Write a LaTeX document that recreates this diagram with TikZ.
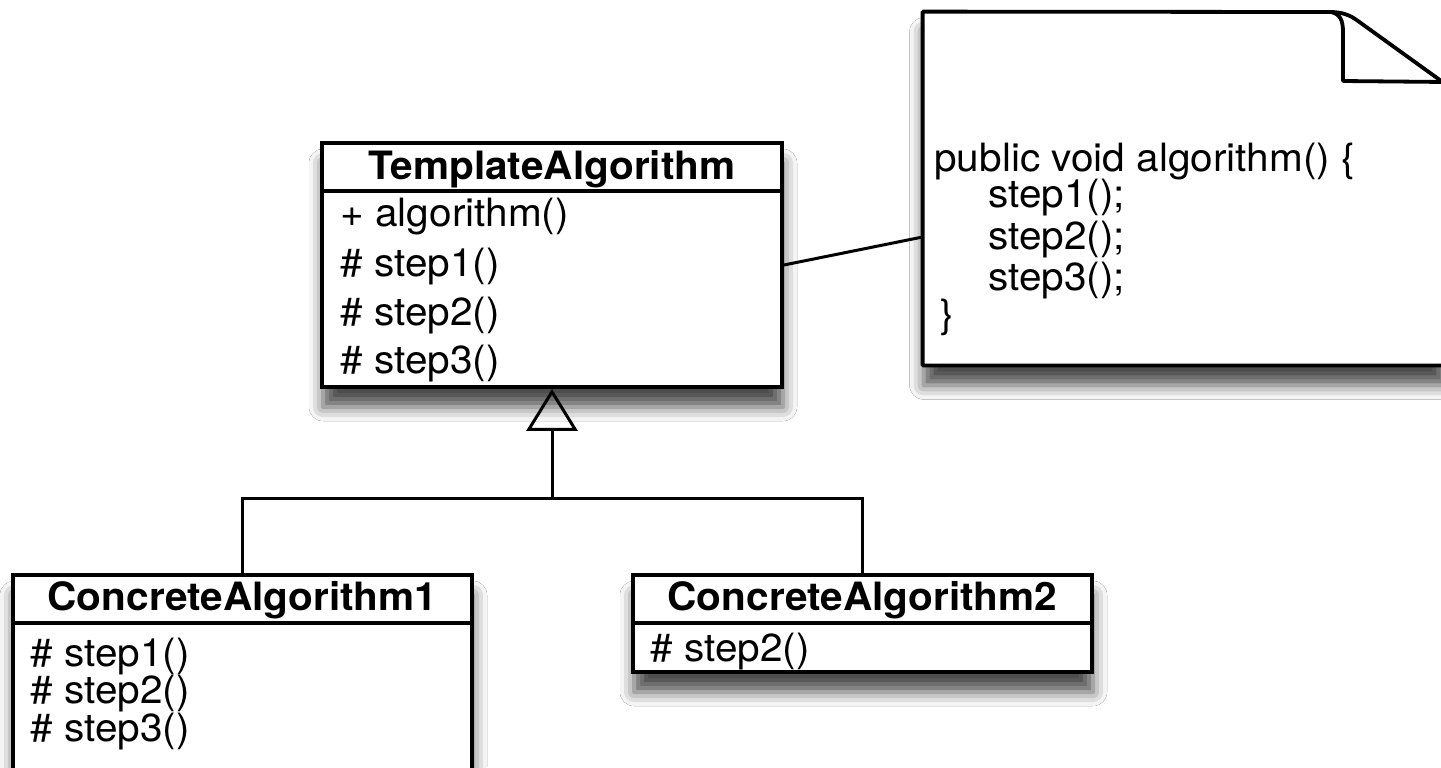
\documentclass[tikz,border=0pt]{standalone}
\usepackage{fontspec}
\setmainfont{TeX Gyre Heros}[FakeStretch=1.04]
\usetikzlibrary{fit,arrows.meta,shadows.blur}

\tikzset{
  umlbox/.style={draw=black, line width=1.9pt, fill=white, inner sep=0pt,
    blur shadow={shadow xshift=0.5pt, shadow yshift=-10pt,
                 shadow blur radius=7pt, shadow opacity=70}},
  frame/.style={inner sep=0pt},
  divider/.style={line width=1.9pt},
  classname/.style={font=\bfseries\fontsize{19.5}{23}\selectfont,
    inner sep=0pt, anchor=base},
  member/.style={font=\fontsize{19.5}{23}\selectfont,
    inner sep=0pt, anchor=base west},
  link/.style={line width=1.5pt},
  notepaper/.style={draw=black, line width=1.9pt, fill=white, line join=round,
    blur shadow={shadow xshift=0.5pt, shadow yshift=-10pt,
                 shadow blur radius=7pt, shadow opacity=70}},
}

\begin{document}
\begin{tikzpicture}[x=0.5pt, y=-0.5pt]
  \useasboundingbox (0,0) rectangle (1441,767);
  \fill[white] (0,0) rectangle (1441,767);
  \clip (0,0) rectangle (1441,767);

  % abstract class
  \node[umlbox, fit={(322,143) (782,387)}] (ta) {};
  \draw[divider] (ta.west |- 0,191) -- (ta.east |- 0,191);
  \node[classname] (taname) at (552,179) {TemplateAlgorithm};
  \node[member] (ta1) at (340,226) {+ algorithm()};
  \node[member] (ta2) at (340,276) {\# step1()};
  \node[member] (ta3) at (340,325) {\# step2()};
  \node[member] (ta4) at (340,373) {\# step3()};

  % first subclass
  \node[umlbox, fit={(13,575) (472,800)}] (ca) {};
  \draw[divider] (ca.west |- 0,623) -- (ca.east |- 0,623);
  \node[classname] (caname) at (242.5,610) {ConcreteAlgorithm1};
  \node[member] (ca1) at (30,666) {\# step1()};
  \node[member] (ca2) at (30,703) {\# step2()};
  \node[member] (ca3) at (30,741) {\# step3()};

  % second subclass
  \node[umlbox, fit={(633,575) (1092,672)}] (cb) {};
  \draw[divider] (cb.west |- 0,623) -- (cb.east |- 0,623);
  \node[classname] (cbname) at (862.5,610) {ConcreteAlgorithm2};
  \node[member] (cb1) at (650,661) {\# step2()};

  % note with folded corner
  \node[frame, fit={(923,12) (1445,365)}] (note) {};
  \draw[notepaper]
    (note.north west) -- (1330,12)
    .. controls (1342,12) and (1350,15) .. (1358,21)
    -- (note.east |- 0,84) -- (note.south east) -- (note.south west) -- cycle;
  \draw[line width=1.9pt, line join=round]
    (1331,12) .. controls (1340,14) and (1343,20) .. (1343,32)
    -- (1343,81) -- (note.east |- 0,82);
  \node[member] (n1) at (934,171) {public void algorithm() \{};
  \node[member] (n2) at (988,207) {step1();};
  \node[member] (n3) at (988,249) {step2();};
  \node[member] (n4) at (988,290) {step3();};
  \node[member] (n5) at (940,327) {\}};

  % note attachment
  \draw[link] (ta.east) -- (note.west |- 0,237);

  % generalization
  \coordinate (join) at (552,498);
  \draw[link] (ca.north) |- (join) -| (cb.north);
  \draw[link, -{Triangle[open, length=21pt, width=25.5pt, line width=1.5pt]}]
    (join) -- (ta.south);
\end{tikzpicture}
\end{document}
